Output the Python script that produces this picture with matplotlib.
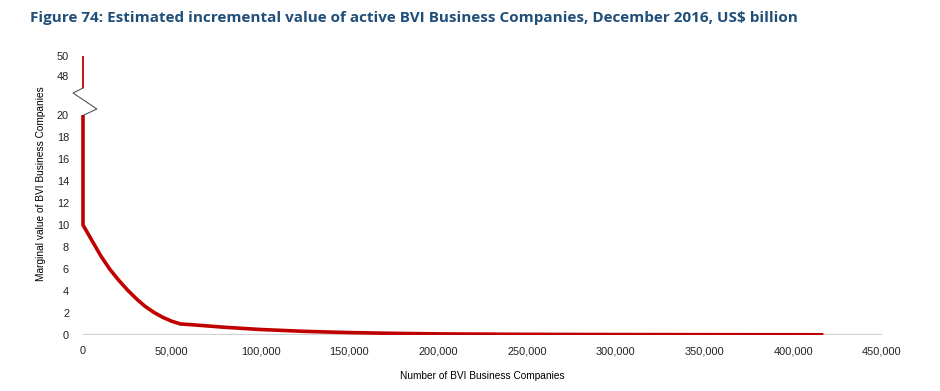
import matplotlib
matplotlib.use("Agg")
import matplotlib.pyplot as plt
from matplotlib.transforms import Bbox, TransformedBbox

# Data
companies = [0, 0, 0, 5000, 10000, 15000, 20000, 25000, 30000, 35000, 40000,
             45000, 50000, 55000, 60000, 80000, 100000, 125000, 150000, 175000,
             200000, 250000, 300000, 350000, 417000]
marginal_value = [50, 20, 10, 8.6, 7.2, 6.0, 5.0, 4.1, 3.3, 2.6, 2.05,
                  1.6, 1.25, 1.0, 0.95, 0.7, 0.5, 0.33, 0.22, 0.15,
                  0.1, 0.06, 0.04, 0.03, 0.02]
x_ticks = [0, 50000, 100000, 150000, 200000, 250000, 300000, 350000, 400000, 450000]
low_ticks = [0, 2, 4, 6, 8, 10, 12, 14, 16, 18, 20]
high_ticks = [48, 50]

title = "Figure 74: Estimated incremental value of active BVI Business Companies, December 2016, US$ billion"
red = "#C00000"
grey = "#D0D0D0"
W, H = 940, 391

plt.rcParams["font.family"] = ["Liberation Sans", "DejaVu Sans"]
tick_fs = 7.9
lab_fs = 7.3

fig = plt.figure(figsize=(W / 100, H / 100), dpi=100)

# lower panel: 0..20  (pixels x 83..882, y 115..335)
ax = fig.add_axes([83 / W, (H - 335) / H, 799 / W, 220 / H])
# upper panel: 46.8..50 (pixels y 56..88)
ax_top = fig.add_axes([83 / W, (H - 88) / H, 799 / W, 32 / H])

low_line, = ax.plot(companies, marginal_value, color=red, lw=2.6, solid_capstyle="butt")
top_line, = ax_top.plot(companies, marginal_value, color=red, lw=1.3, solid_capstyle="butt")
# let the vertical segment at x=0 show its full width
low_line.set_clip_box(TransformedBbox(Bbox([[-0.02, 0], [1, 1]]), ax.transAxes))
top_line.set_clip_box(TransformedBbox(Bbox([[-0.02, 0], [1, 1]]), ax_top.transAxes))

ax.set_xlim(0, 450000)
ax.set_ylim(0, 20)
ax_top.set_xlim(0, 450000)
ax_top.set_ylim(46.8, 50)

for a in (ax, ax_top):
    for s in a.spines.values():
        s.set_visible(False)
    a.tick_params(length=0, labelsize=tick_fs, colors="#222222")
ax.axhline(0, color=grey, lw=1.6, zorder=0)

ax.set_xticks(x_ticks)
ax.set_xticklabels([f"{v:,}" for v in x_ticks])
ax.tick_params(axis="x", pad=8)
ax.tick_params(axis="y", pad=10)
ax.set_yticks(low_ticks)
ax_top.set_yticks(high_ticks)
ax_top.set_xticks([])
ax_top.tick_params(axis="y", pad=10)

# zigzag break mark (in lower axes data units, drawn outside the axes)
zx = [600, -5600, 7800, 600]
zy = [22.5, 22.0, 20.55, 20.0]
ax.plot(zx, zy, color="#555555", lw=0.8, clip_on=False)

ax.set_xlabel("Number of BVI Business Companies", fontsize=lab_fs, labelpad=11)
fig.text(41 / W, (H - 184) / H, "Marginal value of BVI Business Companies",
         rotation=90, ha="center", va="center", fontsize=lab_fs)

fig.text(30 / W, (H - 18) / H, title, fontsize=11.0, fontweight="bold",
         color="#1F4E79", family=["Open Sans", "DejaVu Sans"], va="center", ha="left")

fig.savefig("out.png", dpi=100)
